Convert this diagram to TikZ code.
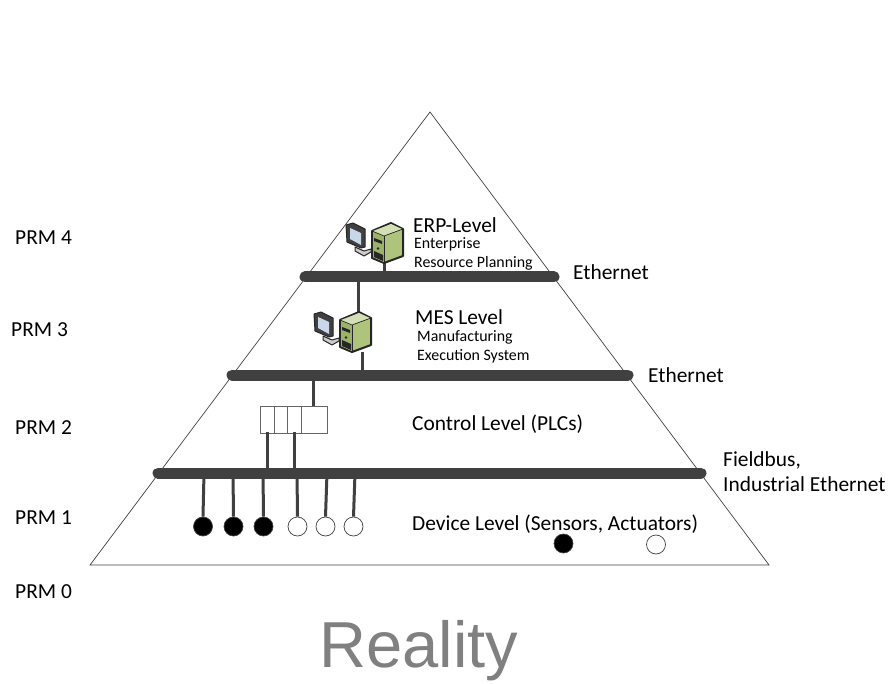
\documentclass[tikz,border=0pt]{standalone}
\usepackage{fontspec}
\setmainfont{Carlito}
\newfontfamily\realityfont{Liberation Sans}
\definecolor{busc}{HTML}{404040}
\definecolor{srvfront}{HTML}{9BB268}
\definecolor{srvside}{HTML}{AEC47C}
\definecolor{srvtop}{HTML}{D3DFB5}
\definecolor{scrn}{HTML}{C9D7EA}
\tikzset{
  pyramid/.style={draw=black!75,line width=0.7pt},
  bus/.style={draw=busc,line width=11pt,line cap=round},
  drop/.style={draw=busc,line width=3pt},
  dev/.style={circle,minimum size=19pt,inner sep=0pt,line width=0.7pt,draw=black!75},
  devon/.style={dev,fill=black},
  devoff/.style={dev,fill=white},
  plc/.style={draw=black!60,line width=0.8pt,fill=white,minimum height=27pt,inner sep=0pt},
  lab/.style={font=\fontsize{21.4}{24}\selectfont,anchor=west,inner sep=0pt},
  sublab/.style={font=\fontsize{15.9}{20}\selectfont,anchor=west,inner sep=0pt,align=left},
}
\newcommand{\workstation}[2]{%
 \begin{scope}[shift={(#1,#2)}]
  % monitor
  \draw[black!85,line width=1pt,fill=black!75,line join=round] (-26,2) -- (-19,0) -- (-7,6) -- (-7,24) -- (-11,25) -- (-25,19) -- cycle;
  \fill[scrn] (-22,5) -- (-11,10) -- (-11,22) -- (-22,16) -- cycle;
  \draw[black!85,line width=1pt,fill=black!20,line join=round] (-17,24) -- (-8,28) -- (-1,26) -- (-1,29) -- (-8,33) -- (-17,28) -- cycle;
  % server
  \draw[black!85,line width=2pt,line join=round,fill=srvside] (0,8) -- (19,0) -- (31,6) -- (31,33) -- (12,40) -- (0,35) -- cycle;
  \fill[srvtop] (1,8) -- (19,1) -- (30,6) -- (12,13) -- cycle;
  \fill[srvfront] (1,9) -- (12,14) -- (12,39) -- (1,34) -- cycle;
  \draw[black!85,line width=0.7pt] (0,8) -- (12,13) -- (31,6);
  \draw[black!85,line width=0.7pt] (12,13) -- (12,40);
  \fill[black!85] (2,15) -- (10,18) -- (10,21) -- (2,18) -- cycle;
  \fill[black!85] (2,28) -- (11,32) -- (11,38) -- (2,34) -- cycle;
  \fill[black!85] (6,25.5) circle (1.3);
 \end{scope}}
\begin{document}
\begin{tikzpicture}[x=1pt,y=-1pt]
\useasboundingbox (0,0) rectangle (888,684);
\coordinate (apex) at (430,112);
\coordinate (bl) at (90,565);
\coordinate (br) at (769,565);
\draw[pyramid] (apex) -- (bl) -- (br) -- cycle;

% bus ends
\coordinate (b1l) at (305,277); \coordinate (b1r) at (554,277);
\coordinate (b2l) at (232,375); \coordinate (b2r) at (628,375);
\coordinate (b3l) at (158,473); \coordinate (b3r) at (701,473);

% connector ends
\coordinate (s1b) at (384,262); \coordinate (s1t) at (384,277);
\coordinate (m1) at (358,277); \coordinate (m2) at (358,312);
\coordinate (s2b) at (362,352); \coordinate (s2t) at (362,375);
\coordinate (p1) at (313,375); \coordinate (p2) at (313,406);
\coordinate (p3) at (267,432); \coordinate (p4) at (267,473);
\coordinate (p5) at (294,432); \coordinate (p6) at (294,473);
\coordinate (d1t) at (204,473); \coordinate (d2t) at (233,473);
\coordinate (d3t) at (263,473); \coordinate (d4t) at (297,473);
\coordinate (d5t) at (327,473); \coordinate (d6t) at (355,473);

\draw[drop] (s1b) -- (s1t);
\draw[drop] (m1) -- (m2);
\draw[drop] (s2b) -- (s2t);
\draw[drop] (p1) -- (p2);

\node[plc,minimum width=14pt,anchor=north west] (c1) at (260,406) {};
\node[plc,minimum width=13.5pt,anchor=north west] (c2) at (273.5,406) {};
\node[plc,minimum width=14pt,anchor=north west] (c3) at (287,406) {};
\node[plc,minimum width=26pt,anchor=north west] (c4) at (300.5,406) {};
\draw[drop] (p3) -- (p4);
\draw[drop] (p5) -- (p6);

\node[devon] (d1) at (203,526.5) {};
\node[devon] (d2) at (233.5,526.5) {};
\node[devon] (d3) at (263.5,526.5) {};
\node[devoff] (d4) at (297.5,526.5) {};
\node[devoff] (d5) at (325.5,526.5) {};
\node[devoff] (d6) at (353.5,526.5) {};
\foreach \n in {1,...,6} \draw[drop] (d\n t) -- (d\n.north);
\node[devon] (d7) at (563.5,543.5) {};
\node[devoff] (d8) at (656,544.5) {};

\draw[bus] (b1l) -- (b1r);
\draw[bus] (b2l) -- (b2r);
\draw[bus] (b3l) -- (b3r);

\workstation{372}{223}
\workstation{340}{312}

\node[lab] (erp) at (413,225) {ERP-Level};
\node[sublab] (erp2) at (414,244) {Enterprise};
\node[sublab] (erp3) at (414,263) {Resource Planning};
\node[lab] (mes) at (415,317) {MES Level};
\node[sublab] (mes2) at (417,337) {Manufacturing};
\node[sublab] (mes3) at (417,356) {Execution System};
\node[lab] (ctl) at (412,424) {Control Level (PLCs)};
\node[lab] (devl) at (412,524) {Device Level (Sensors, Actuators)};
\node[lab] (eth1) at (573,272) {Ethernet};
\node[lab] (eth2) at (648,375) {Ethernet};
\node[lab] (fb1) at (723,460) {Fieldbus,};
\node[lab] (fb2) at (723,484) {Industrial Ethernet};
\node[lab] (prm4) at (15,238) {PRM 4};
\node[lab] (prm3) at (11,330) {PRM 3};
\node[lab] (prm2) at (15,428) {PRM 2};
\node[lab] (prm1) at (15,518) {PRM 1};
\node[lab] (prm0) at (15,592) {PRM 0};
\node[anchor=center,inner sep=0pt,text=black!50,font=\realityfont\fontsize{65}{70}\selectfont] (real) at (419,651) {Reality};
\end{tikzpicture}
\end{document}
